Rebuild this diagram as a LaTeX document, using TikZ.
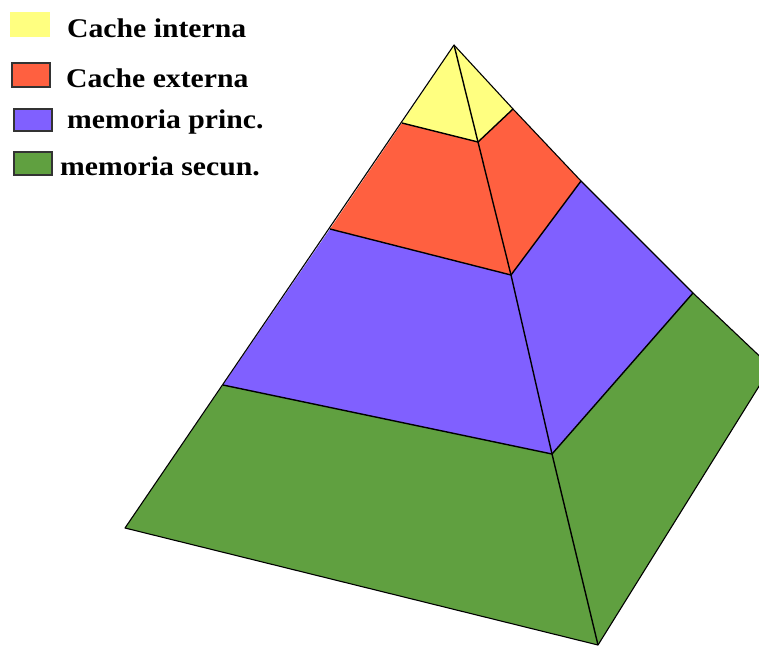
\documentclass[tikz,border=0pt]{standalone}
\usepackage{fontspec}
\setmainfont{Liberation Serif}[FakeStretch=1.1]
\definecolor{cyel}{RGB}{255,255,128}
\definecolor{cred}{RGB}{255,96,64}
\definecolor{cblue}{RGB}{128,96,255}
\definecolor{cgreen}{RGB}{96,160,64}
\tikzset{
  face/.style={draw=black, line width=1.1pt, line join=round},
  edgeline/.style={draw=black, line width=1.4pt},
  legbox/.style={draw=black!80, line width=1.2pt},
  legtext/.style={anchor=base west, inner sep=0pt, font=\fontsize{27}{30}\selectfont\bfseries}
}
\begin{document}
\begin{tikzpicture}[x=1pt,y=-1pt]
\useasboundingbox (0,0) rectangle (759,646);
\clip (0,0) rectangle (759,646);
% key points
\coordinate (A) at (454,45);
\coordinate (YL) at (402,123);
\coordinate (YF) at (478,142);
\coordinate (YR) at (513,109);
\coordinate (RL) at (330,229);
\coordinate (RF) at (511,275);
\coordinate (RR) at (581,181);
\coordinate (BL) at (223,385);
\coordinate (BF) at (552,454);
\coordinate (BR) at (693,293);
\coordinate (L) at (125,528);
\coordinate (F) at (598,645);
\coordinate (R) at (771,367);
% bands
\fill[cgreen] (BL) -- (L) -- (F) -- (R) -- (BR) -- (BF) -- cycle;
\fill[cblue] (RL) -- (BL) -- (BF) -- (BR) -- (RR) -- (RF) -- cycle;
\fill[cred] (YL) -- (RL) -- (RF) -- (RR) -- (YR) -- (YF) -- cycle;
\fill[cyel] (A) -- (YL) -- (YF) -- (YR) -- cycle;
% division lines
\draw[edgeline] (YL) -- (YF) -- (YR);
\draw[edgeline] (RL) -- (RF) -- (RR);
\draw[edgeline] (BL) -- (BF) -- (BR);
% outline
\draw[face] (A) -- (L) -- (F) -- (R) -- (BR) -- (RR) -- (YR) -- cycle;
\draw[edgeline] (A) -- (YF) -- (RF) -- (BF) -- (F);
% legend
\fill[cyel] (10,12) rectangle (50,37);
\node[legbox, fill=cred, minimum width=38pt, minimum height=24pt, inner sep=0pt] (kred) at (31,75) {};
\node[legbox, fill=cblue, minimum width=38pt, minimum height=22pt, inner sep=0pt] (kblue) at (33,120) {};
\node[legbox, fill=cgreen, minimum width=38pt, minimum height=23pt, inner sep=0pt] (kgreen) at (33,163.5) {};
\node[legtext] (t1) at (67,37) {Cache interna};
\node[legtext] (t2) at (66,87) {Cache externa};
\node[legtext] (t3) at (67,128) {memoria princ.};
\node[legtext] (t4) at (60,175) {memoria secun.};
\end{tikzpicture}
\end{document}
